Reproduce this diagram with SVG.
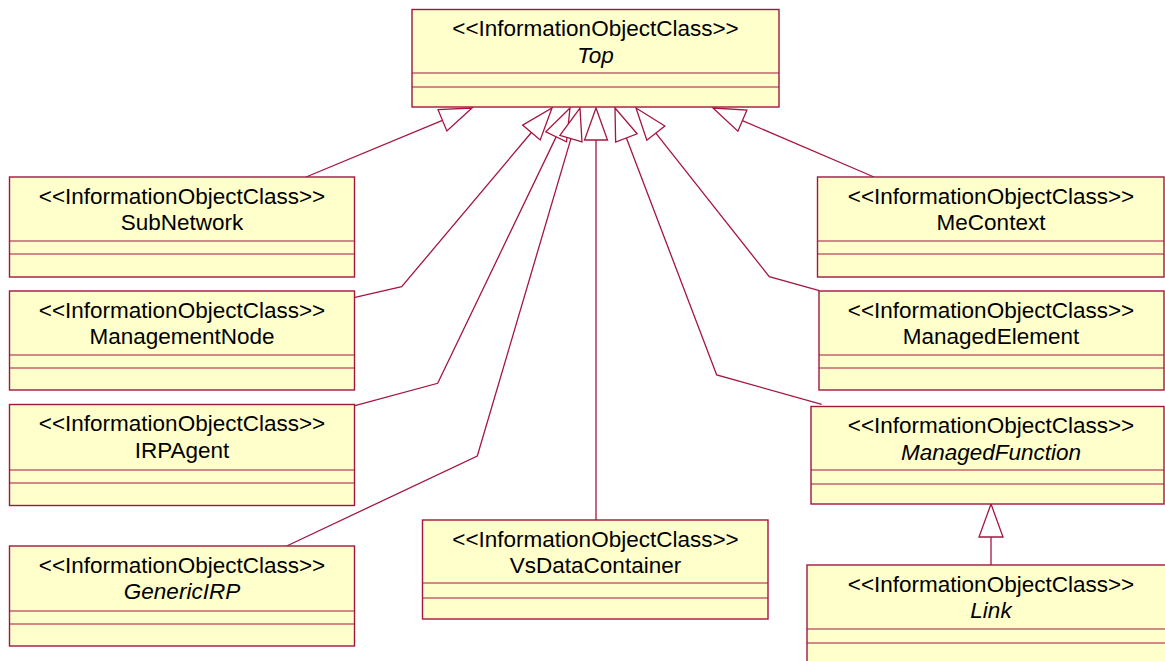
<svg xmlns="http://www.w3.org/2000/svg" width="1165" height="661" viewBox="0 0 1165 661">
<style>
.box{fill:#FFFFCC;stroke:#A3163F;stroke-width:1.4}
.sep{stroke:#A3163F;stroke-width:1.2}
.t{font-family:"Liberation Sans",Arial,sans-serif;font-size:22.5px;fill:#000;text-anchor:middle}
.i{font-style:italic}
.c{fill:none;stroke:#A3163F;stroke-width:1.3}
.h{fill:#FFFFFF;stroke:#A3163F;stroke-width:1.3}
</style>
<rect width="1165" height="661" fill="#FFFFFF"/>
<g id="connectors">
<polyline class="c" points="306,177 442.45,120.28"/>
<polygon class="h" points="472,108 446.86,130.9 438.04,109.66"/>
<polyline class="c" points="355,297.3 401.7,286.7 531.4,132.49"/>
<polygon class="h" points="552,108 540.2,139.89 522.6,125.09"/>
<polyline class="c" points="355,405.7 437.7,383.3 556.14,136.85"/>
<polygon class="h" points="570,108 566.51,141.83 545.77,131.87"/>
<polyline class="c" points="286.7,546 477.3,456 570.94,138.69"/>
<polygon class="h" points="580,108 581.97,141.95 559.91,135.43"/>
<polyline class="c" points="596,520 596,140"/>
<polygon class="h" points="596,108 584.5,140 607.5,140"/>
<polyline class="c" points="821.7,404.3 716.7,375 626.39,137.9"/>
<polygon class="h" points="615,108 637.14,133.81 615.64,141.99"/>
<polyline class="c" points="819.3,290.7 769.3,276.7 655.84,133.11"/>
<polygon class="h" points="636,108 664.86,125.98 646.82,140.24"/>
<polyline class="c" points="874,177 742.41,120.6"/>
<polygon class="h" points="713,108 746.94,110.03 737.88,131.17"/>
<polyline class="c" points="991,565 991,537"/>
<polygon class="h" points="991,504 979,537 1003,537"/>
</g>
<g id="Top">
<rect class="box" x="412" y="9.5" width="367" height="97.5"/>
<line class="sep" x1="412" y1="73" x2="779" y2="73"/>
<line class="sep" x1="412" y1="87" x2="779" y2="87"/>
<text class="t" x="595.5" y="36">&lt;&lt;InformationObjectClass&gt;&gt;</text>
<text class="t i" x="595.5" y="63">Top</text>
</g>
<g id="SubNetwork">
<rect class="box" x="9.5" y="177" width="345" height="100"/>
<line class="sep" x1="9.5" y1="241" x2="354.5" y2="241"/>
<line class="sep" x1="9.5" y1="254" x2="354.5" y2="254"/>
<text class="t" x="182" y="203.5">&lt;&lt;InformationObjectClass&gt;&gt;</text>
<text class="t" x="182" y="230">SubNetwork</text>
</g>
<g id="ManagementNode">
<rect class="box" x="9.5" y="291" width="345" height="99"/>
<line class="sep" x1="9.5" y1="355" x2="354.5" y2="355"/>
<line class="sep" x1="9.5" y1="368" x2="354.5" y2="368"/>
<text class="t" x="182" y="317.5">&lt;&lt;InformationObjectClass&gt;&gt;</text>
<text class="t" x="182" y="344">ManagementNode</text>
</g>
<g id="IRPAgent">
<rect class="box" x="9.5" y="404.5" width="345" height="101"/>
<line class="sep" x1="9.5" y1="470" x2="354.5" y2="470"/>
<line class="sep" x1="9.5" y1="483" x2="354.5" y2="483"/>
<text class="t" x="182" y="431">&lt;&lt;InformationObjectClass&gt;&gt;</text>
<text class="t" x="182" y="458">IRPAgent</text>
</g>
<g id="GenericIRP">
<rect class="box" x="9.5" y="546" width="345" height="100"/>
<line class="sep" x1="9.5" y1="611" x2="354.5" y2="611"/>
<line class="sep" x1="9.5" y1="624" x2="354.5" y2="624"/>
<text class="t" x="182" y="572.5">&lt;&lt;InformationObjectClass&gt;&gt;</text>
<text class="t i" x="182" y="599">GenericIRP</text>
</g>
<g id="VsDataContainer">
<rect class="box" x="422.5" y="520" width="345.5" height="99"/>
<line class="sep" x1="422.5" y1="583" x2="768" y2="583"/>
<line class="sep" x1="422.5" y1="598" x2="768" y2="598"/>
<text class="t" x="595.5" y="546.5">&lt;&lt;InformationObjectClass&gt;&gt;</text>
<text class="t" x="595.5" y="573">VsDataContainer</text>
</g>
<g id="MeContext">
<rect class="box" x="817.5" y="177" width="346.5" height="100"/>
<line class="sep" x1="817.5" y1="241" x2="1164" y2="241"/>
<line class="sep" x1="817.5" y1="254" x2="1164" y2="254"/>
<text class="t" x="991" y="203.5">&lt;&lt;InformationObjectClass&gt;&gt;</text>
<text class="t" x="991" y="230">MeContext</text>
</g>
<g id="ManagedElement">
<rect class="box" x="819" y="291" width="345" height="99"/>
<line class="sep" x1="819" y1="355" x2="1164" y2="355"/>
<line class="sep" x1="819" y1="368" x2="1164" y2="368"/>
<text class="t" x="991" y="317.5">&lt;&lt;InformationObjectClass&gt;&gt;</text>
<text class="t" x="991" y="344">ManagedElement</text>
</g>
<g id="ManagedFunction">
<rect class="box" x="811" y="406.5" width="353" height="97.5"/>
<line class="sep" x1="811" y1="470" x2="1164" y2="470"/>
<line class="sep" x1="811" y1="484" x2="1164" y2="484"/>
<text class="t" x="991" y="433">&lt;&lt;InformationObjectClass&gt;&gt;</text>
<text class="t i" x="991" y="460">ManagedFunction</text>
</g>
<g id="Link">
<rect class="box" x="807" y="565" width="370" height="110"/>
<line class="sep" x1="807" y1="629" x2="1177" y2="629"/>
<line class="sep" x1="807" y1="643" x2="1177" y2="643"/>
<text class="t" x="991" y="591.5">&lt;&lt;InformationObjectClass&gt;&gt;</text>
<text class="t i" x="991" y="618">Link</text>
</g>
</svg>
